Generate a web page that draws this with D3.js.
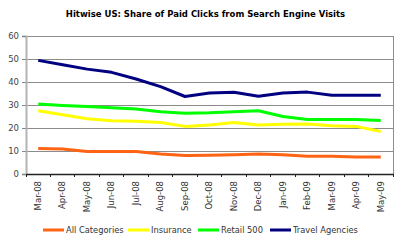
<!DOCTYPE html>
<html><head><meta charset="utf-8">
<script src="https://cdn.jsdelivr.net/npm/d3@7"></script>
<style>body{margin:0;background:#fff}svg{display:block}</style>
</head><body>
<svg id="c" width="400" height="241"></svg>
<script>
const categories = ["Mar-08","Apr-08","May-08","Jun-08","Jul-08","Aug-08","Sep-08","Oct-08","Nov-08","Dec-08","Jan-09","Feb-09","Mar-09","Apr-09","May-09"];
const allCategories = [11.1,10.9,9.8,9.8,9.8,8.7,8.0,8.1,8.4,8.7,8.4,7.7,7.7,7.4,7.4];
const insurance = [27.5,25.8,24.0,23.2,22.9,22.4,20.7,21.3,22.4,21.3,21.6,21.7,21.0,20.7,18.5];
const retail500 = [30.4,29.8,29.4,28.8,28.3,27.1,26.4,26.6,27.1,27.5,25.0,23.7,23.7,23.7,23.3];
const travelAgencies = [49.4,47.5,45.6,44.2,41.3,38.0,33.7,35.2,35.5,33.8,35.2,35.6,34.2,34.2,34.2];
const yTicks = [0,10,20,30,40,50,60];
const seriesNames = ["All Categories","Insurance","Retail 500","Travel Agencies"];
const seriesColors = ["#FF6414","#FFFF00","#00FF00","#000080"];
const title = "Hitwise US: Share of Paid Clicks from Search Engine Visits";

const series = [allCategories, insurance, retail500, travelAgencies];
const svg = d3.select("#c");
const L = 26, R = 393, T = 36, B = 174;
const x = d3.scaleBand().domain(categories).range([L, R]);
const y = d3.scaleLinear().domain([0, 60]).range([B, T]);
const font = "DejaVu Sans, Verdana, sans-serif";

svg.append("text").attr("x", 205.5).attr("y", 17).attr("text-anchor", "middle")
  .attr("font-family", font).attr("font-size", 8.5).attr("font-weight", "bold")
  .attr("fill", "#000").text(title);

// gridlines
svg.append("g").selectAll("line").data(yTicks.filter(d => d > 0)).join("line")
  .attr("x1", L).attr("x2", R).attr("y1", d => y(d)).attr("y2", d => y(d))
  .attr("stroke", "#8c8c8c").attr("stroke-width", 1).attr("shape-rendering", "crispEdges");
// right border
svg.append("line").attr("x1", R).attr("x2", R).attr("y1", y(60)).attr("y2", B)
  .attr("stroke", "#8c8c8c").attr("shape-rendering", "crispEdges");

// y axis
const ya = svg.append("g").attr("transform", `translate(${L},0)`)
  .call(d3.axisLeft(y).tickValues(yTicks).tickSize(4).tickPadding(3));
ya.select(".domain").attr("stroke", "#b4b4b4").attr("stroke-width", 2);
ya.selectAll(".tick line").attr("stroke", "#888");
ya.selectAll("text").attr("font-family", font).attr("font-size", 8.5).attr("fill", "#444");

// x axis
const xa = svg.append("g").attr("transform", `translate(0,${B})`)
  .call(d3.axisBottom(x).tickSize(0));
xa.select(".domain").attr("stroke", "#222").attr("stroke-width", 1.5);
xa.selectAll(".tick line").remove();
xa.selectAll("text").attr("font-family", font).attr("font-size", 8.5).attr("fill", "#333")
  .attr("text-anchor", "end").attr("dy", "0.32em")
  .attr("transform", "translate(0,7) rotate(-90)").attr("x", 0).attr("y", 0);
// boundary ticks
const bounds = categories.map(c => x(c)).concat([R]);
svg.append("g").selectAll("line").data(bounds).join("line")
  .attr("x1", d => d).attr("x2", d => d).attr("y1", B).attr("y2", B + 3)
  .attr("stroke", "#222").attr("shape-rendering", "crispEdges");

// lines
const line = d3.line().x((d, i) => x(categories[i]) + x.bandwidth() / 2).y(d => y(d));
series.forEach((s, k) => {
  svg.append("path").datum(s).attr("d", line).attr("fill", "none")
    .attr("stroke", seriesColors[k]).attr("stroke-width", 3).attr("stroke-linejoin", "round");
});

// legend
const legendX = [43, 128, 198, 270];
const lg = svg.append("g");
seriesNames.forEach((n, k) => {
  lg.append("line").attr("x1", legendX[k]).attr("x2", legendX[k] + 21).attr("y1", 230).attr("y2", 230)
    .attr("stroke", seriesColors[k]).attr("stroke-width", 3);
  lg.append("text").attr("x", legendX[k] + 23).attr("y", 233).attr("font-family", font)
    .attr("font-size", 8.3).attr("fill", "#333").text(n);
});
</script>
</body></html>
